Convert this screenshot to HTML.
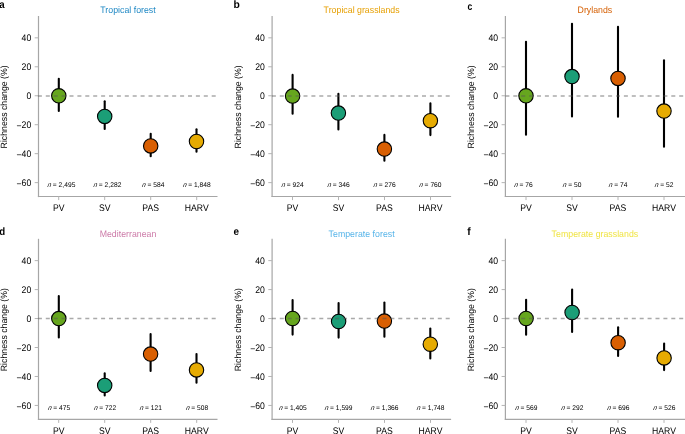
<!DOCTYPE html><html><head><meta charset="utf-8"><style>html,body{margin:0;padding:0;background:#fff;}svg{display:block;will-change:transform;}</style></head><body>
<svg width="685" height="434" viewBox="0 0 685 434" font-family='"Liberation Sans", sans-serif' fill="#000" text-rendering="geometricPrecision">
<rect width="685" height="434" fill="#fff"/>
<text transform="translate(-0.70,7.90) scale(0.0900,0.1)" font-size="108" font-weight="bold">a</text>
<text transform="translate(128.00,12.50) scale(0.1,0.1060)" font-size="88.0" text-anchor="middle" fill="#1F88C4">Tropical forest</text>
<text transform="translate(7.20,106.85) rotate(-90) scale(0.1,0.1040)" font-size="87.5" text-anchor="middle">Richness change (%)</text>
<line x1="38.5" y1="16.0" x2="38.5" y2="197.1" stroke="#a6a6a6" stroke-width="1.2"/>
<line x1="37.9" y1="196.5" x2="217.5" y2="196.5" stroke="#a6a6a6" stroke-width="1.2"/>
<line x1="34.7" y1="37.83" x2="38.5" y2="37.83" stroke="#b4b4b4" stroke-width="1"/>
<text transform="translate(31.30,41.08) scale(0.1,0.1100)" font-size="87.0" text-anchor="end">40</text>
<line x1="34.7" y1="66.79" x2="38.5" y2="66.79" stroke="#b4b4b4" stroke-width="1"/>
<text transform="translate(31.30,70.04) scale(0.1,0.1100)" font-size="87.0" text-anchor="end">20</text>
<line x1="34.7" y1="95.75" x2="38.5" y2="95.75" stroke="#b4b4b4" stroke-width="1"/>
<text transform="translate(31.30,99.00) scale(0.1,0.1100)" font-size="87.0" text-anchor="end">0</text>
<line x1="34.7" y1="124.71" x2="38.5" y2="124.71" stroke="#b4b4b4" stroke-width="1"/>
<text transform="translate(31.30,127.96) scale(0.1,0.1100)" font-size="87.0" text-anchor="end"><tspan dy="8.0">−</tspan><tspan dy="-8.0">20</tspan></text>
<line x1="34.7" y1="153.67" x2="38.5" y2="153.67" stroke="#b4b4b4" stroke-width="1"/>
<text transform="translate(31.30,156.92) scale(0.1,0.1100)" font-size="87.0" text-anchor="end"><tspan dy="8.0">−</tspan><tspan dy="-8.0">40</tspan></text>
<line x1="34.7" y1="182.63" x2="38.5" y2="182.63" stroke="#b4b4b4" stroke-width="1"/>
<text transform="translate(31.30,185.88) scale(0.1,0.1100)" font-size="87.0" text-anchor="end"><tspan dy="8.0">−</tspan><tspan dy="-8.0">60</tspan></text>
<line x1="58.70" y1="196.5" x2="58.70" y2="200.1" stroke="#b4b4b4" stroke-width="1"/>
<text transform="translate(58.70,210.60) scale(0.1,0.1100)" font-size="87.0" text-anchor="middle">PV</text>
<line x1="104.70" y1="196.5" x2="104.70" y2="200.1" stroke="#b4b4b4" stroke-width="1"/>
<text transform="translate(104.70,210.60) scale(0.1,0.1100)" font-size="87.0" text-anchor="middle">SV</text>
<line x1="150.70" y1="196.5" x2="150.70" y2="200.1" stroke="#b4b4b4" stroke-width="1"/>
<text transform="translate(150.70,210.60) scale(0.1,0.1100)" font-size="87.0" text-anchor="middle">PAS</text>
<line x1="196.70" y1="196.5" x2="196.70" y2="200.1" stroke="#b4b4b4" stroke-width="1"/>
<text transform="translate(196.70,210.60) scale(0.1,0.1100)" font-size="87.0" text-anchor="middle">HARV</text>
<text transform="translate(47.24,187.00) skewX(-10) scale(0.1,0.1030)" font-size="67.0" font-style="italic">n</text>
<text transform="translate(50.96,187.00) scale(0.1,0.1030)" font-size="67.0"> = 2,495</text>
<text transform="translate(93.24,187.00) skewX(-10) scale(0.1,0.1030)" font-size="67.0" font-style="italic">n</text>
<text transform="translate(96.96,187.00) scale(0.1,0.1030)" font-size="67.0"> = 2,282</text>
<text transform="translate(141.83,187.00) skewX(-10) scale(0.1,0.1030)" font-size="67.0" font-style="italic">n</text>
<text transform="translate(145.56,187.00) scale(0.1,0.1030)" font-size="67.0"> = 584</text>
<text transform="translate(182.64,187.00) skewX(-10) scale(0.1,0.1030)" font-size="67.0" font-style="italic">n</text>
<text transform="translate(186.36,187.00) scale(0.1,0.1030)" font-size="67.0"> = 1,848</text>
<line x1="58.8" y1="78.80" x2="58.8" y2="111.00" stroke="#000" stroke-width="2.1" stroke-linecap="round"/>
<circle cx="58.8" cy="95.8" r="7.2" fill="#66A61E" stroke="#000" stroke-width="1.1"/>
<line x1="104.7" y1="101.30" x2="104.7" y2="128.90" stroke="#000" stroke-width="2.1" stroke-linecap="round"/>
<circle cx="104.7" cy="116.4" r="7.2" fill="#1B9E77" stroke="#000" stroke-width="1.1"/>
<line x1="150.7" y1="133.80" x2="150.7" y2="156.20" stroke="#000" stroke-width="2.1" stroke-linecap="round"/>
<circle cx="150.7" cy="145.9" r="7.2" fill="#D95F02" stroke="#000" stroke-width="1.1"/>
<line x1="196.5" y1="129.30" x2="196.5" y2="151.70" stroke="#000" stroke-width="2.1" stroke-linecap="round"/>
<circle cx="196.5" cy="141.5" r="7.2" fill="#E6AB02" stroke="#000" stroke-width="1.1"/>
<line x1="37.90" y1="96.00" x2="217.5" y2="96.00" stroke="#555" stroke-opacity="0.5" stroke-width="1.3" stroke-dasharray="4 3.9"/>
<text transform="translate(233.50,8.20) scale(0.0960,0.1)" font-size="108" font-weight="bold">b</text>
<text transform="translate(361.60,12.50) scale(0.1,0.1060)" font-size="88.0" text-anchor="middle" fill="#E69F00">Tropical grasslands</text>
<text transform="translate(240.80,106.85) rotate(-90) scale(0.1,0.1040)" font-size="87.5" text-anchor="middle">Richness change (%)</text>
<line x1="272.1" y1="16.0" x2="272.1" y2="197.1" stroke="#a6a6a6" stroke-width="1.2"/>
<line x1="271.5" y1="196.5" x2="451.1" y2="196.5" stroke="#a6a6a6" stroke-width="1.2"/>
<line x1="268.3" y1="37.83" x2="272.1" y2="37.83" stroke="#b4b4b4" stroke-width="1"/>
<text transform="translate(264.90,41.08) scale(0.1,0.1100)" font-size="87.0" text-anchor="end">40</text>
<line x1="268.3" y1="66.79" x2="272.1" y2="66.79" stroke="#b4b4b4" stroke-width="1"/>
<text transform="translate(264.90,70.04) scale(0.1,0.1100)" font-size="87.0" text-anchor="end">20</text>
<line x1="268.3" y1="95.75" x2="272.1" y2="95.75" stroke="#b4b4b4" stroke-width="1"/>
<text transform="translate(264.90,99.00) scale(0.1,0.1100)" font-size="87.0" text-anchor="end">0</text>
<line x1="268.3" y1="124.71" x2="272.1" y2="124.71" stroke="#b4b4b4" stroke-width="1"/>
<text transform="translate(264.90,127.96) scale(0.1,0.1100)" font-size="87.0" text-anchor="end"><tspan dy="8.0">−</tspan><tspan dy="-8.0">20</tspan></text>
<line x1="268.3" y1="153.67" x2="272.1" y2="153.67" stroke="#b4b4b4" stroke-width="1"/>
<text transform="translate(264.90,156.92) scale(0.1,0.1100)" font-size="87.0" text-anchor="end"><tspan dy="8.0">−</tspan><tspan dy="-8.0">40</tspan></text>
<line x1="268.3" y1="182.63" x2="272.1" y2="182.63" stroke="#b4b4b4" stroke-width="1"/>
<text transform="translate(264.90,185.88) scale(0.1,0.1100)" font-size="87.0" text-anchor="end"><tspan dy="8.0">−</tspan><tspan dy="-8.0">60</tspan></text>
<line x1="292.50" y1="196.5" x2="292.50" y2="200.1" stroke="#b4b4b4" stroke-width="1"/>
<text transform="translate(292.50,210.60) scale(0.1,0.1100)" font-size="87.0" text-anchor="middle">PV</text>
<line x1="338.50" y1="196.5" x2="338.50" y2="200.1" stroke="#b4b4b4" stroke-width="1"/>
<text transform="translate(338.50,210.60) scale(0.1,0.1100)" font-size="87.0" text-anchor="middle">SV</text>
<line x1="384.50" y1="196.5" x2="384.50" y2="200.1" stroke="#b4b4b4" stroke-width="1"/>
<text transform="translate(384.50,210.60) scale(0.1,0.1100)" font-size="87.0" text-anchor="middle">PAS</text>
<line x1="430.50" y1="196.5" x2="430.50" y2="200.1" stroke="#b4b4b4" stroke-width="1"/>
<text transform="translate(430.50,210.60) scale(0.1,0.1100)" font-size="87.0" text-anchor="middle">HARV</text>
<text transform="translate(281.23,187.00) skewX(-10) scale(0.1,0.1030)" font-size="67.0" font-style="italic">n</text>
<text transform="translate(284.96,187.00) scale(0.1,0.1030)" font-size="67.0"> = 924</text>
<text transform="translate(327.23,187.00) skewX(-10) scale(0.1,0.1030)" font-size="67.0" font-style="italic">n</text>
<text transform="translate(330.96,187.00) scale(0.1,0.1030)" font-size="67.0"> = 346</text>
<text transform="translate(373.23,187.00) skewX(-10) scale(0.1,0.1030)" font-size="67.0" font-style="italic">n</text>
<text transform="translate(376.96,187.00) scale(0.1,0.1030)" font-size="67.0"> = 276</text>
<text transform="translate(419.03,187.00) skewX(-10) scale(0.1,0.1030)" font-size="67.0" font-style="italic">n</text>
<text transform="translate(422.76,187.00) scale(0.1,0.1030)" font-size="67.0"> = 760</text>
<line x1="292.6" y1="74.90" x2="292.6" y2="113.80" stroke="#000" stroke-width="2.1" stroke-linecap="round"/>
<circle cx="292.6" cy="96.1" r="7.2" fill="#66A61E" stroke="#000" stroke-width="1.1"/>
<line x1="338.4" y1="93.80" x2="338.4" y2="129.40" stroke="#000" stroke-width="2.1" stroke-linecap="round"/>
<circle cx="338.4" cy="113.1" r="7.2" fill="#1B9E77" stroke="#000" stroke-width="1.1"/>
<line x1="384.4" y1="134.90" x2="384.4" y2="160.75" stroke="#000" stroke-width="2.1" stroke-linecap="round"/>
<circle cx="384.4" cy="149.1" r="7.2" fill="#D95F02" stroke="#000" stroke-width="1.1"/>
<line x1="430.4" y1="103.40" x2="430.4" y2="135.10" stroke="#000" stroke-width="2.1" stroke-linecap="round"/>
<circle cx="430.4" cy="120.7" r="7.2" fill="#E6AB02" stroke="#000" stroke-width="1.1"/>
<line x1="271.90" y1="96.00" x2="451.1" y2="96.00" stroke="#555" stroke-opacity="0.5" stroke-width="1.3" stroke-dasharray="4 3.9"/>
<text transform="translate(467.50,9.80) scale(0.0790,0.1)" font-size="108" font-weight="bold">c</text>
<text transform="translate(594.90,12.50) scale(0.1,0.1060)" font-size="88.0" text-anchor="middle" fill="#D55E00">Drylands</text>
<text transform="translate(474.10,106.85) rotate(-90) scale(0.1,0.1040)" font-size="87.5" text-anchor="middle">Richness change (%)</text>
<line x1="505.4" y1="16.0" x2="505.4" y2="197.1" stroke="#a6a6a6" stroke-width="1.2"/>
<line x1="504.79999999999995" y1="196.5" x2="686" y2="196.5" stroke="#a6a6a6" stroke-width="1.2"/>
<line x1="501.59999999999997" y1="37.83" x2="505.4" y2="37.83" stroke="#b4b4b4" stroke-width="1"/>
<text transform="translate(498.20,41.08) scale(0.1,0.1100)" font-size="87.0" text-anchor="end">40</text>
<line x1="501.59999999999997" y1="66.79" x2="505.4" y2="66.79" stroke="#b4b4b4" stroke-width="1"/>
<text transform="translate(498.20,70.04) scale(0.1,0.1100)" font-size="87.0" text-anchor="end">20</text>
<line x1="501.59999999999997" y1="95.75" x2="505.4" y2="95.75" stroke="#b4b4b4" stroke-width="1"/>
<text transform="translate(498.20,99.00) scale(0.1,0.1100)" font-size="87.0" text-anchor="end">0</text>
<line x1="501.59999999999997" y1="124.71" x2="505.4" y2="124.71" stroke="#b4b4b4" stroke-width="1"/>
<text transform="translate(498.20,127.96) scale(0.1,0.1100)" font-size="87.0" text-anchor="end"><tspan dy="8.0">−</tspan><tspan dy="-8.0">20</tspan></text>
<line x1="501.59999999999997" y1="153.67" x2="505.4" y2="153.67" stroke="#b4b4b4" stroke-width="1"/>
<text transform="translate(498.20,156.92) scale(0.1,0.1100)" font-size="87.0" text-anchor="end"><tspan dy="8.0">−</tspan><tspan dy="-8.0">40</tspan></text>
<line x1="501.59999999999997" y1="182.63" x2="505.4" y2="182.63" stroke="#b4b4b4" stroke-width="1"/>
<text transform="translate(498.20,185.88) scale(0.1,0.1100)" font-size="87.0" text-anchor="end"><tspan dy="8.0">−</tspan><tspan dy="-8.0">60</tspan></text>
<line x1="526.00" y1="196.5" x2="526.00" y2="200.1" stroke="#b4b4b4" stroke-width="1"/>
<text transform="translate(526.00,210.60) scale(0.1,0.1100)" font-size="87.0" text-anchor="middle">PV</text>
<line x1="572.00" y1="196.5" x2="572.00" y2="200.1" stroke="#b4b4b4" stroke-width="1"/>
<text transform="translate(572.00,210.60) scale(0.1,0.1100)" font-size="87.0" text-anchor="middle">SV</text>
<line x1="618.00" y1="196.5" x2="618.00" y2="200.1" stroke="#b4b4b4" stroke-width="1"/>
<text transform="translate(618.00,210.60) scale(0.1,0.1100)" font-size="87.0" text-anchor="middle">PAS</text>
<line x1="664.00" y1="196.5" x2="664.00" y2="200.1" stroke="#b4b4b4" stroke-width="1"/>
<text transform="translate(664.00,210.60) scale(0.1,0.1100)" font-size="87.0" text-anchor="middle">HARV</text>
<text transform="translate(513.89,187.00) skewX(-10) scale(0.1,0.1030)" font-size="67.0" font-style="italic">n</text>
<text transform="translate(517.62,187.00) scale(0.1,0.1030)" font-size="67.0"> = 76</text>
<text transform="translate(562.59,187.00) skewX(-10) scale(0.1,0.1030)" font-size="67.0" font-style="italic">n</text>
<text transform="translate(566.32,187.00) scale(0.1,0.1030)" font-size="67.0"> = 50</text>
<text transform="translate(608.59,187.00) skewX(-10) scale(0.1,0.1030)" font-size="67.0" font-style="italic">n</text>
<text transform="translate(612.32,187.00) scale(0.1,0.1030)" font-size="67.0"> = 74</text>
<text transform="translate(654.59,187.00) skewX(-10) scale(0.1,0.1030)" font-size="67.0" font-style="italic">n</text>
<text transform="translate(658.32,187.00) scale(0.1,0.1030)" font-size="67.0"> = 52</text>
<line x1="526.0" y1="41.80" x2="526.0" y2="134.80" stroke="#000" stroke-width="2.1" stroke-linecap="round"/>
<circle cx="526.0" cy="95.8" r="7.2" fill="#66A61E" stroke="#000" stroke-width="1.1"/>
<line x1="572.0" y1="23.80" x2="572.0" y2="116.40" stroke="#000" stroke-width="2.1" stroke-linecap="round"/>
<circle cx="572.0" cy="76.6" r="7.2" fill="#1B9E77" stroke="#000" stroke-width="1.1"/>
<line x1="618.0" y1="26.90" x2="618.0" y2="116.80" stroke="#000" stroke-width="2.1" stroke-linecap="round"/>
<circle cx="618.0" cy="78.4" r="7.2" fill="#D95F02" stroke="#000" stroke-width="1.1"/>
<line x1="664.0" y1="60.40" x2="664.0" y2="146.80" stroke="#000" stroke-width="2.1" stroke-linecap="round"/>
<circle cx="664.0" cy="111.1" r="7.2" fill="#E6AB02" stroke="#000" stroke-width="1.1"/>
<line x1="505.40" y1="96.00" x2="684.4" y2="96.00" stroke="#555" stroke-opacity="0.5" stroke-width="1.3" stroke-dasharray="4 3.9"/>
<text transform="translate(-0.70,234.60) scale(0.0900,0.1)" font-size="108" font-weight="bold">d</text>
<text transform="translate(128.00,237.20) scale(0.1,0.1060)" font-size="88.0" text-anchor="middle" fill="#CC79A7">Mediterranean</text>
<text transform="translate(7.20,329.65) rotate(-90) scale(0.1,0.1040)" font-size="87.5" text-anchor="middle">Richness change (%)</text>
<line x1="38.5" y1="238.8" x2="38.5" y2="419.90000000000003" stroke="#a6a6a6" stroke-width="1.2"/>
<line x1="37.9" y1="419.3" x2="217.5" y2="419.3" stroke="#a6a6a6" stroke-width="1.2"/>
<line x1="34.7" y1="260.63" x2="38.5" y2="260.63" stroke="#b4b4b4" stroke-width="1"/>
<text transform="translate(31.30,263.88) scale(0.1,0.1100)" font-size="87.0" text-anchor="end">40</text>
<line x1="34.7" y1="289.59" x2="38.5" y2="289.59" stroke="#b4b4b4" stroke-width="1"/>
<text transform="translate(31.30,292.84) scale(0.1,0.1100)" font-size="87.0" text-anchor="end">20</text>
<line x1="34.7" y1="318.55" x2="38.5" y2="318.55" stroke="#b4b4b4" stroke-width="1"/>
<text transform="translate(31.30,321.80) scale(0.1,0.1100)" font-size="87.0" text-anchor="end">0</text>
<line x1="34.7" y1="347.51" x2="38.5" y2="347.51" stroke="#b4b4b4" stroke-width="1"/>
<text transform="translate(31.30,350.76) scale(0.1,0.1100)" font-size="87.0" text-anchor="end"><tspan dy="8.0">−</tspan><tspan dy="-8.0">20</tspan></text>
<line x1="34.7" y1="376.47" x2="38.5" y2="376.47" stroke="#b4b4b4" stroke-width="1"/>
<text transform="translate(31.30,379.72) scale(0.1,0.1100)" font-size="87.0" text-anchor="end"><tspan dy="8.0">−</tspan><tspan dy="-8.0">40</tspan></text>
<line x1="34.7" y1="405.43" x2="38.5" y2="405.43" stroke="#b4b4b4" stroke-width="1"/>
<text transform="translate(31.30,408.68) scale(0.1,0.1100)" font-size="87.0" text-anchor="end"><tspan dy="8.0">−</tspan><tspan dy="-8.0">60</tspan></text>
<line x1="58.70" y1="419.3" x2="58.70" y2="422.90000000000003" stroke="#b4b4b4" stroke-width="1"/>
<text transform="translate(58.70,433.80) scale(0.1,0.1100)" font-size="87.0" text-anchor="middle">PV</text>
<line x1="104.70" y1="419.3" x2="104.70" y2="422.90000000000003" stroke="#b4b4b4" stroke-width="1"/>
<text transform="translate(104.70,433.80) scale(0.1,0.1100)" font-size="87.0" text-anchor="middle">SV</text>
<line x1="150.70" y1="419.3" x2="150.70" y2="422.90000000000003" stroke="#b4b4b4" stroke-width="1"/>
<text transform="translate(150.70,433.80) scale(0.1,0.1100)" font-size="87.0" text-anchor="middle">PAS</text>
<line x1="196.70" y1="419.3" x2="196.70" y2="422.90000000000003" stroke="#b4b4b4" stroke-width="1"/>
<text transform="translate(196.70,433.80) scale(0.1,0.1100)" font-size="87.0" text-anchor="middle">HARV</text>
<text transform="translate(47.63,409.80) skewX(-10) scale(0.1,0.1030)" font-size="67.0" font-style="italic">n</text>
<text transform="translate(51.36,409.80) scale(0.1,0.1030)" font-size="67.0"> = 475</text>
<text transform="translate(93.73,409.80) skewX(-10) scale(0.1,0.1030)" font-size="67.0" font-style="italic">n</text>
<text transform="translate(97.46,409.80) scale(0.1,0.1030)" font-size="67.0"> = 722</text>
<text transform="translate(139.43,409.80) skewX(-10) scale(0.1,0.1030)" font-size="67.0" font-style="italic">n</text>
<text transform="translate(143.16,409.80) scale(0.1,0.1030)" font-size="67.0"> = 121</text>
<text transform="translate(185.73,409.80) skewX(-10) scale(0.1,0.1030)" font-size="67.0" font-style="italic">n</text>
<text transform="translate(189.46,409.80) scale(0.1,0.1030)" font-size="67.0"> = 508</text>
<line x1="58.8" y1="296.10" x2="58.8" y2="337.40" stroke="#000" stroke-width="2.1" stroke-linecap="round"/>
<circle cx="58.8" cy="318.6" r="7.2" fill="#66A61E" stroke="#000" stroke-width="1.1"/>
<line x1="104.7" y1="373.40" x2="104.7" y2="395.50" stroke="#000" stroke-width="2.1" stroke-linecap="round"/>
<circle cx="104.7" cy="385.4" r="7.2" fill="#1B9E77" stroke="#000" stroke-width="1.1"/>
<line x1="150.6" y1="334.10" x2="150.6" y2="371.00" stroke="#000" stroke-width="2.1" stroke-linecap="round"/>
<circle cx="150.6" cy="354.1" r="7.2" fill="#D95F02" stroke="#000" stroke-width="1.1"/>
<line x1="196.5" y1="354.10" x2="196.5" y2="382.75" stroke="#000" stroke-width="2.1" stroke-linecap="round"/>
<circle cx="196.5" cy="369.9" r="7.2" fill="#E6AB02" stroke="#000" stroke-width="1.1"/>
<line x1="37.90" y1="318.50" x2="217.5" y2="318.50" stroke="#555" stroke-opacity="0.5" stroke-width="1.3" stroke-dasharray="4 3.9"/>
<text transform="translate(233.40,234.80) scale(0.0920,0.1)" font-size="108" font-weight="bold">e</text>
<text transform="translate(361.60,237.20) scale(0.1,0.1060)" font-size="88.0" text-anchor="middle" fill="#56B4E9">Temperate forest</text>
<text transform="translate(240.80,329.65) rotate(-90) scale(0.1,0.1040)" font-size="87.5" text-anchor="middle">Richness change (%)</text>
<line x1="272.1" y1="238.8" x2="272.1" y2="419.90000000000003" stroke="#a6a6a6" stroke-width="1.2"/>
<line x1="271.5" y1="419.3" x2="451.1" y2="419.3" stroke="#a6a6a6" stroke-width="1.2"/>
<line x1="268.3" y1="260.63" x2="272.1" y2="260.63" stroke="#b4b4b4" stroke-width="1"/>
<text transform="translate(264.90,263.88) scale(0.1,0.1100)" font-size="87.0" text-anchor="end">40</text>
<line x1="268.3" y1="289.59" x2="272.1" y2="289.59" stroke="#b4b4b4" stroke-width="1"/>
<text transform="translate(264.90,292.84) scale(0.1,0.1100)" font-size="87.0" text-anchor="end">20</text>
<line x1="268.3" y1="318.55" x2="272.1" y2="318.55" stroke="#b4b4b4" stroke-width="1"/>
<text transform="translate(264.90,321.80) scale(0.1,0.1100)" font-size="87.0" text-anchor="end">0</text>
<line x1="268.3" y1="347.51" x2="272.1" y2="347.51" stroke="#b4b4b4" stroke-width="1"/>
<text transform="translate(264.90,350.76) scale(0.1,0.1100)" font-size="87.0" text-anchor="end"><tspan dy="8.0">−</tspan><tspan dy="-8.0">20</tspan></text>
<line x1="268.3" y1="376.47" x2="272.1" y2="376.47" stroke="#b4b4b4" stroke-width="1"/>
<text transform="translate(264.90,379.72) scale(0.1,0.1100)" font-size="87.0" text-anchor="end"><tspan dy="8.0">−</tspan><tspan dy="-8.0">40</tspan></text>
<line x1="268.3" y1="405.43" x2="272.1" y2="405.43" stroke="#b4b4b4" stroke-width="1"/>
<text transform="translate(264.90,408.68) scale(0.1,0.1100)" font-size="87.0" text-anchor="end"><tspan dy="8.0">−</tspan><tspan dy="-8.0">60</tspan></text>
<line x1="292.50" y1="419.3" x2="292.50" y2="422.90000000000003" stroke="#b4b4b4" stroke-width="1"/>
<text transform="translate(292.50,433.80) scale(0.1,0.1100)" font-size="87.0" text-anchor="middle">PV</text>
<line x1="338.50" y1="419.3" x2="338.50" y2="422.90000000000003" stroke="#b4b4b4" stroke-width="1"/>
<text transform="translate(338.50,433.80) scale(0.1,0.1100)" font-size="87.0" text-anchor="middle">SV</text>
<line x1="384.50" y1="419.3" x2="384.50" y2="422.90000000000003" stroke="#b4b4b4" stroke-width="1"/>
<text transform="translate(384.50,433.80) scale(0.1,0.1100)" font-size="87.0" text-anchor="middle">PAS</text>
<line x1="430.50" y1="419.3" x2="430.50" y2="422.90000000000003" stroke="#b4b4b4" stroke-width="1"/>
<text transform="translate(430.50,433.80) scale(0.1,0.1100)" font-size="87.0" text-anchor="middle">HARV</text>
<text transform="translate(278.64,409.80) skewX(-10) scale(0.1,0.1030)" font-size="67.0" font-style="italic">n</text>
<text transform="translate(282.36,409.80) scale(0.1,0.1030)" font-size="67.0"> = 1,405</text>
<text transform="translate(324.44,409.80) skewX(-10) scale(0.1,0.1030)" font-size="67.0" font-style="italic">n</text>
<text transform="translate(328.16,409.80) scale(0.1,0.1030)" font-size="67.0"> = 1,599</text>
<text transform="translate(370.44,409.80) skewX(-10) scale(0.1,0.1030)" font-size="67.0" font-style="italic">n</text>
<text transform="translate(374.16,409.80) scale(0.1,0.1030)" font-size="67.0"> = 1,366</text>
<text transform="translate(416.44,409.80) skewX(-10) scale(0.1,0.1030)" font-size="67.0" font-style="italic">n</text>
<text transform="translate(420.16,409.80) scale(0.1,0.1030)" font-size="67.0"> = 1,748</text>
<line x1="292.6" y1="300.10" x2="292.6" y2="334.60" stroke="#000" stroke-width="2.1" stroke-linecap="round"/>
<circle cx="292.6" cy="318.5" r="7.2" fill="#66A61E" stroke="#000" stroke-width="1.1"/>
<line x1="338.6" y1="303.10" x2="338.6" y2="337.60" stroke="#000" stroke-width="2.1" stroke-linecap="round"/>
<circle cx="338.6" cy="321.5" r="7.2" fill="#1B9E77" stroke="#000" stroke-width="1.1"/>
<line x1="384.4" y1="302.45" x2="384.4" y2="336.80" stroke="#000" stroke-width="2.1" stroke-linecap="round"/>
<circle cx="384.4" cy="321.1" r="7.2" fill="#D95F02" stroke="#000" stroke-width="1.1"/>
<line x1="430.3" y1="328.60" x2="430.3" y2="358.50" stroke="#000" stroke-width="2.1" stroke-linecap="round"/>
<circle cx="430.3" cy="344.2" r="7.2" fill="#E6AB02" stroke="#000" stroke-width="1.1"/>
<line x1="271.90" y1="318.50" x2="451.1" y2="318.50" stroke="#555" stroke-opacity="0.5" stroke-width="1.3" stroke-dasharray="4 3.9"/>
<text transform="translate(467.20,234.60) scale(0.0960,0.1)" font-size="108" font-weight="bold">f</text>
<text transform="translate(594.90,237.20) scale(0.1,0.1060)" font-size="88.0" text-anchor="middle" fill="#F0E442">Temperate grasslands</text>
<text transform="translate(474.10,329.65) rotate(-90) scale(0.1,0.1040)" font-size="87.5" text-anchor="middle">Richness change (%)</text>
<line x1="505.4" y1="238.8" x2="505.4" y2="419.90000000000003" stroke="#a6a6a6" stroke-width="1.2"/>
<line x1="504.79999999999995" y1="419.3" x2="686" y2="419.3" stroke="#a6a6a6" stroke-width="1.2"/>
<line x1="501.59999999999997" y1="260.63" x2="505.4" y2="260.63" stroke="#b4b4b4" stroke-width="1"/>
<text transform="translate(498.20,263.88) scale(0.1,0.1100)" font-size="87.0" text-anchor="end">40</text>
<line x1="501.59999999999997" y1="289.59" x2="505.4" y2="289.59" stroke="#b4b4b4" stroke-width="1"/>
<text transform="translate(498.20,292.84) scale(0.1,0.1100)" font-size="87.0" text-anchor="end">20</text>
<line x1="501.59999999999997" y1="318.55" x2="505.4" y2="318.55" stroke="#b4b4b4" stroke-width="1"/>
<text transform="translate(498.20,321.80) scale(0.1,0.1100)" font-size="87.0" text-anchor="end">0</text>
<line x1="501.59999999999997" y1="347.51" x2="505.4" y2="347.51" stroke="#b4b4b4" stroke-width="1"/>
<text transform="translate(498.20,350.76) scale(0.1,0.1100)" font-size="87.0" text-anchor="end"><tspan dy="8.0">−</tspan><tspan dy="-8.0">20</tspan></text>
<line x1="501.59999999999997" y1="376.47" x2="505.4" y2="376.47" stroke="#b4b4b4" stroke-width="1"/>
<text transform="translate(498.20,379.72) scale(0.1,0.1100)" font-size="87.0" text-anchor="end"><tspan dy="8.0">−</tspan><tspan dy="-8.0">40</tspan></text>
<line x1="501.59999999999997" y1="405.43" x2="505.4" y2="405.43" stroke="#b4b4b4" stroke-width="1"/>
<text transform="translate(498.20,408.68) scale(0.1,0.1100)" font-size="87.0" text-anchor="end"><tspan dy="8.0">−</tspan><tspan dy="-8.0">60</tspan></text>
<line x1="526.00" y1="419.3" x2="526.00" y2="422.90000000000003" stroke="#b4b4b4" stroke-width="1"/>
<text transform="translate(526.00,433.80) scale(0.1,0.1100)" font-size="87.0" text-anchor="middle">PV</text>
<line x1="572.00" y1="419.3" x2="572.00" y2="422.90000000000003" stroke="#b4b4b4" stroke-width="1"/>
<text transform="translate(572.00,433.80) scale(0.1,0.1100)" font-size="87.0" text-anchor="middle">SV</text>
<line x1="618.00" y1="419.3" x2="618.00" y2="422.90000000000003" stroke="#b4b4b4" stroke-width="1"/>
<text transform="translate(618.00,433.80) scale(0.1,0.1100)" font-size="87.0" text-anchor="middle">PAS</text>
<line x1="664.00" y1="419.3" x2="664.00" y2="422.90000000000003" stroke="#b4b4b4" stroke-width="1"/>
<text transform="translate(664.00,433.80) scale(0.1,0.1100)" font-size="87.0" text-anchor="middle">HARV</text>
<text transform="translate(514.93,409.80) skewX(-10) scale(0.1,0.1030)" font-size="67.0" font-style="italic">n</text>
<text transform="translate(518.66,409.80) scale(0.1,0.1030)" font-size="67.0"> = 569</text>
<text transform="translate(560.93,409.80) skewX(-10) scale(0.1,0.1030)" font-size="67.0" font-style="italic">n</text>
<text transform="translate(564.66,409.80) scale(0.1,0.1030)" font-size="67.0"> = 292</text>
<text transform="translate(606.93,409.80) skewX(-10) scale(0.1,0.1030)" font-size="67.0" font-style="italic">n</text>
<text transform="translate(610.66,409.80) scale(0.1,0.1030)" font-size="67.0"> = 696</text>
<text transform="translate(652.93,409.80) skewX(-10) scale(0.1,0.1030)" font-size="67.0" font-style="italic">n</text>
<text transform="translate(656.66,409.80) scale(0.1,0.1030)" font-size="67.0"> = 526</text>
<line x1="526.1" y1="299.80" x2="526.1" y2="334.80" stroke="#000" stroke-width="2.1" stroke-linecap="round"/>
<circle cx="526.1" cy="318.5" r="7.2" fill="#66A61E" stroke="#000" stroke-width="1.1"/>
<line x1="572.1" y1="289.50" x2="572.1" y2="331.90" stroke="#000" stroke-width="2.1" stroke-linecap="round"/>
<circle cx="572.1" cy="312.5" r="7.2" fill="#1B9E77" stroke="#000" stroke-width="1.1"/>
<line x1="618.1" y1="327.30" x2="618.1" y2="356.00" stroke="#000" stroke-width="2.1" stroke-linecap="round"/>
<circle cx="618.1" cy="342.7" r="7.2" fill="#D95F02" stroke="#000" stroke-width="1.1"/>
<line x1="664.1" y1="343.60" x2="664.1" y2="370.10" stroke="#000" stroke-width="2.1" stroke-linecap="round"/>
<circle cx="664.1" cy="357.9" r="7.2" fill="#E6AB02" stroke="#000" stroke-width="1.1"/>
<line x1="505.40" y1="318.50" x2="684.4" y2="318.50" stroke="#555" stroke-opacity="0.5" stroke-width="1.3" stroke-dasharray="4 3.9"/>
</svg></body></html>
